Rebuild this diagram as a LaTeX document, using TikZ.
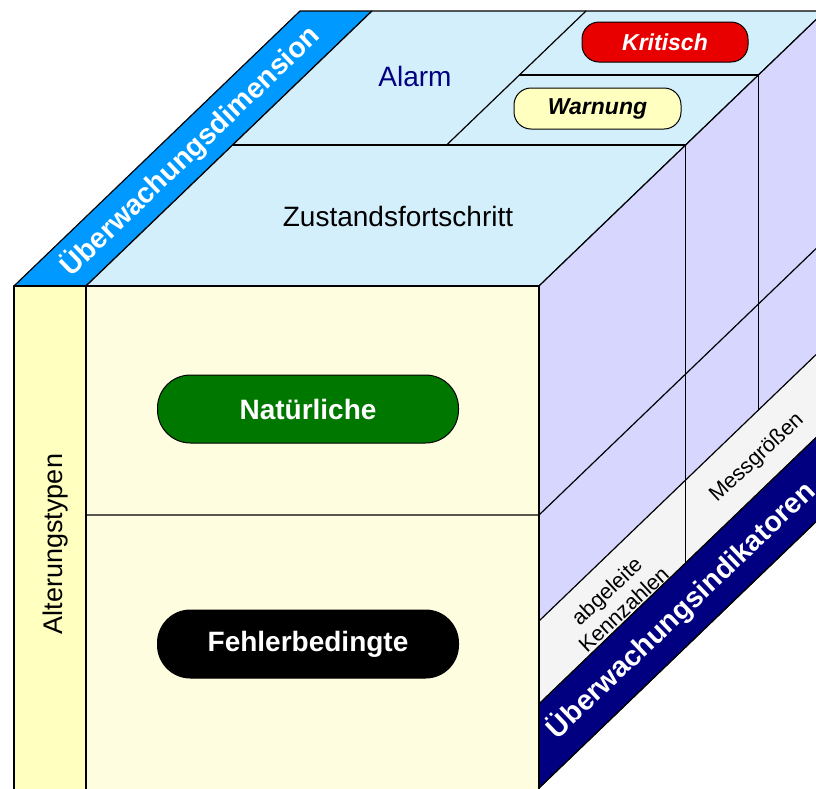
\documentclass[tikz,border=0pt]{standalone}
\usepackage{fontspec}
\setmainfont{Liberation Sans}
\definecolor{topblue}{RGB}{212,239,252}
\definecolor{frontyel}{RGB}{255,253,224}
\definecolor{stripyel}{RGB}{255,255,192}
\definecolor{sidelav}{RGB}{214,214,255}
\definecolor{graybd}{RGB}{244,244,244}
\definecolor{bandblue}{RGB}{0,153,255}
\definecolor{bandnavy}{RGB}{0,0,128}
\definecolor{pillred}{RGB}{232,0,0}
\definecolor{pillgreen}{RGB}{0,120,0}
\definecolor{pillyel}{RGB}{255,255,192}
\begin{document}
\begin{tikzpicture}[x=1pt,y=-1pt,line join=round,
  edge/.style={draw=black,line width=1.2pt},
  bigpill/.style={draw=black,line width=1pt,rounded corners=33pt,inner sep=0pt,
    minimum width=301pt,minimum height=68pt,text=white,
    font=\fontsize{28}{30}\selectfont\bfseries},
  smallpill/.style={draw=black,line width=1pt,rounded corners=17pt,inner sep=0pt,
    minimum width=166pt,minimum height=40pt,
    font=\fontsize{23}{26}\selectfont\bfseries\itshape},
  bandtext/.style={text=white,font=\fontsize{28.5}{30}\selectfont\bfseries},
  bigtext/.style={font=\fontsize{28}{30}\selectfont},
  smalltext/.style={font=\fontsize{21.5}{25}\selectfont,align=center}]
\useasboundingbox (0,0) rectangle (816,788);
\clip (0,0) rectangle (816,788);
% top face
\filldraw[edge,fill=bandblue] (14,286) -- (86,286) -- (372,11) -- (300,11) -- cycle;
\filldraw[edge,fill=topblue] (86,286) -- (539,286) -- (825,11) -- (372,11) -- cycle;
% side face
\filldraw[edge,fill=sidelav] (539,286) -- (825,11) -- (825,513) -- (539,788) -- cycle;
\filldraw[edge,fill=graybd] (539,621) -- (825,346) -- (825,429) -- (539,704) -- cycle;
\filldraw[edge,fill=bandnavy] (539,704) -- (825,429) -- (825,513) -- (539,788) -- cycle;
% front face
\filldraw[edge,fill=stripyel] (14,286) rectangle (86,800);
\filldraw[edge,fill=frontyel] (86,286) rectangle (539,800);
% divisions
\draw[edge] (86,515) -- (539,515) -- (825,240);
\draw[edge] (232.6,145) -- (685.6,145) -- (685.6,563);
\draw[edge] (446.6,145) -- (586,11);
\draw[edge] (519.4,75) -- (758.4,75) -- (758.4,410);
% texts
\node[bigtext,text=bandnavy] (alarm) at (415,76) {Alarm};
\node[bigtext] (zust) at (398,216) {Zustandsfortschritt};
\node[rotate=90,font=\fontsize{27}{30}\selectfont] (alt) at (56,544) {Alterungstypen};
\node[bandtext,rotate=43.9] (dim) at (190,151) {Überwachungsdimension};
\node[bandtext,rotate=43.6] (ind) at (681,610) {Überwachungsindikatoren};
\node[smalltext,rotate=43] (abg) at (615,600) {abgeleite\\Kennzahlen};
\node[smalltext,rotate=43] (mess) at (757,458) {Messgrößen};
% pills
\node[smallpill,fill=pillred,text=white] (krit) at (665,42) {Kritisch};
\node[smallpill,fill=pillyel,minimum width=167pt,minimum height=41pt] (warn) at (597.5,108.5) {Warnung};
\node[bigpill,fill=pillgreen] (nat) at (308,409) {Natürliche};
\node[bigpill,fill=black] (fehl) at (308,644) {Fehlerbedingte};
\end{tikzpicture}
\end{document}
